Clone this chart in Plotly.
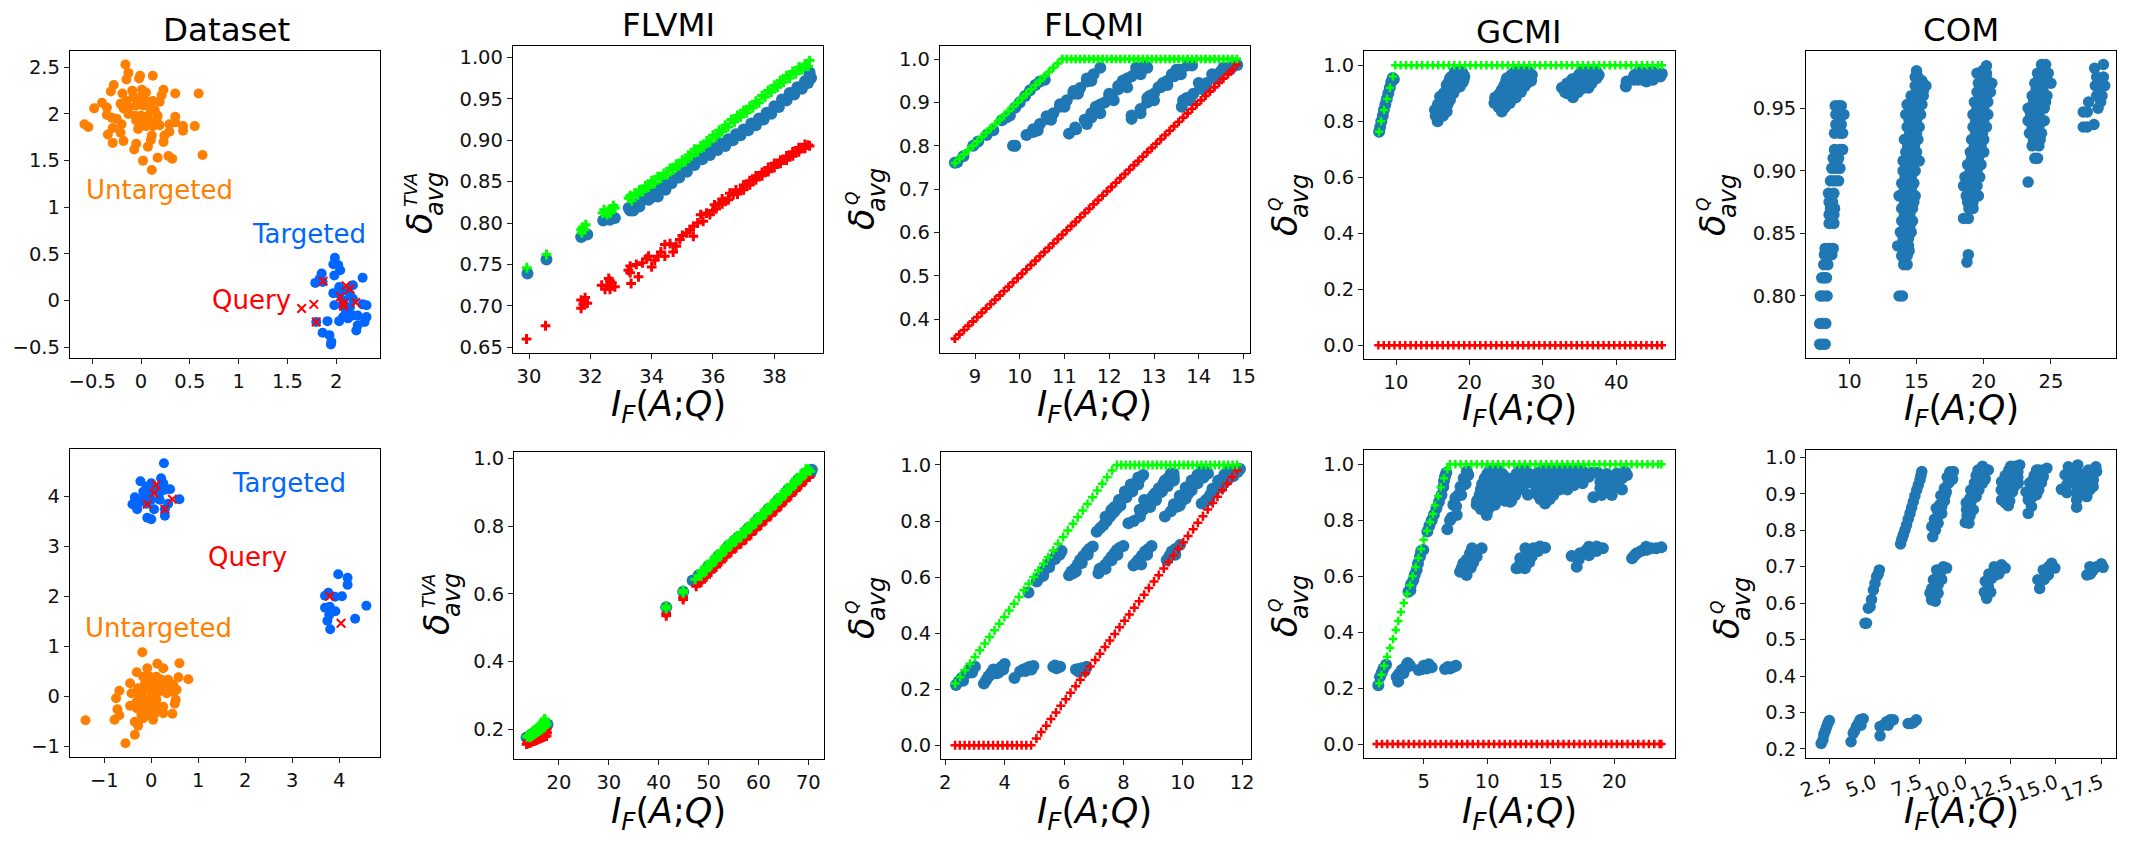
import plotly.graph_objects as go
from plotly.subplots import make_subplots

W, H = 2135, 841
BLUE = '#1f77b4'
RED = '#ff0000'
GREEN = '#00ff00'
ORANGE = '#ff8000'
DS_BLUE = '#0066ff'
FONT = 'DejaVu Sans'

# ---- Dataset panels
ds_top_orange = [(-.16,2.53),(-.13,2.44),(-.15,2.37),(-.01,2.41),(-.02,2.38),(.12,2.41),(-.28,2.31),(-.31,2.24),(-.19,2.22),(-.09,2.25),(.01,2.26),(.05,2.23),(.23,2.26),(.21,2.2),(.35,2.22),(.59,2.22),(-.40,2.12),(-.35,2.07),(-.48,2.06),(-.35,1.99),(-.58,1.89),(-.54,1.86),
                 (-.21,2.11),(-.15,2.14),(-.08,2.18),(-.01,2.18),(.05,2.14),(.12,2.14),(.19,2.13),(-.18,2.06),(-.12,2.07),(-.05,2.09),(.02,2.09),(.09,2.07),(.14,2.04),(-.13,2.0),(-.06,1.98),(.0,1.98),(.07,1.98),(.17,1.98),(-.05,1.93),(.02,1.92),(.09,1.92),(.16,1.92),(.05,1.87),(.12,1.87),(.19,1.88),(.29,1.89),(.35,1.97),(.35,1.91),
                 (-.3,1.96),(-.25,1.95),(-.2,1.89),(-.29,1.85),(-.21,1.8),(-.34,1.78),(-.29,1.69),(-.18,1.71),(-.05,1.68),(-.07,1.62),(-.03,1.84),(.07,1.65),(.1,1.72),(.11,1.77),(.23,1.7),(.24,1.77),(.29,1.81),(.43,1.87),(.43,1.82),(.55,1.87),(.63,1.56),(.17,1.53),(.28,1.55),(.32,1.52),(.02,1.5),(.11,1.4)]
ds_top_blue = [(1.986,.46),(1.97,.39),(2.02,.38),(2.04,.325),(1.98,.27),(1.85,.29),(1.83,.235),(1.785,.19),(1.86,.2),(2.27,.245),(2.17,.165),(2.03,.145),(2.10,.11),(1.97,.08),(2.03,.075),(2.14,.06),(2.07,0),(2.17,.02),(1.98,-.05),(2.07,-.06),(2.14,-.07),(2.27,-.04),(2.31,-.05),(2.10,-.12),(2.17,-.16),(2.07,-.175),(2.03,-.22),(2.12,-.19),(2.22,-.16),(2.31,-.175),(2.29,-.23),(1.91,-.22),(1.795,-.23),(2.22,-.265),(2.205,-.32),(1.86,-.345),(1.93,-.37),(1.95,-.44),(1.945,-.47)]
ds_top_query = [(1.865,.207),(2.10,.16),(2.14,.125),(2.04,.04),(2.2,-.02),(2.07,-.03),(2.075,-.06),(1.77,-.04),(1.645,-.085),(1.795,-.23)]
ds_bot_orange = [(-.19,.88),(.13,.65),(.255,.56),(.6,.66),(-.085,.56),(-.31,.48),(-.45,.26),(.58,.38),(.79,.34),(.36,.33),(-.68,.11),(-.75,-.04),(-.72,-.26),(-.68,-.38),(-.78,-.47),(-1.4,-.48),(-.35,-.51),(-.28,-.59),(-.35,-.77),(-.55,-.94),(.04,-.47),(.45,-.35),(.255,-.34),(.5,-.15),(.52,-.07),(.54,.13),(.47,.23),
                 (-.17,.39),(-.03,.39),(.11,.39),(.22,.33),(-.28,.16),(-.13,.26),(0,.26),(.15,.23),(.29,.19),(.43,.19),(-.42,.06),(-.28,.03),(-.13,.13),(0,.09),(.15,.09),(.33,.06),(.47,.09),(-.45,-.19),(-.31,-.11),(-.17,-.04),(-.03,-.07),(.11,-.07),(-.31,-.24),(-.17,-.21),(-.03,-.24),(.11,-.21),(.255,-.21),(-.21,-.37),(-.06,-.37),(.08,-.34),(-.17,-.44)]
ds_bot_blue = [(.27,4.66),(-.23,4.3),(.21,4.36),(.255,4.26),(0,4.26),(-.1,4.19),(.11,4.16),(.4,4.14),(-.17,4.09),(-.03,4.06),(.17,4.06),(.29,4.13),(-.35,3.98),(-.17,3.96),(0,3.93),(.18,3.93),(.6,3.94),(-.4,3.84),(-.28,3.86),(-.1,3.85),(-.3,3.74),(.06,3.74),(.36,3.85),(.29,3.74),(.29,3.61),(-.085,3.57),(0,3.54),
               (3.98,2.44),(4.18,2.37),(4.18,2.23),(3.77,2.07),(3.7,2.01),(3.91,1.99),(4.06,2.0),(4.58,1.81),(3.7,1.77),(3.8,1.79),(3.92,1.7),(3.79,1.63),(3.75,1.51),(4.34,1.55),(3.81,1.34)]
ds_bot_query = [(.1,4.23),(.06,4.06),(-.085,3.84),(.45,3.94),(.29,3.74),(3.8,2.0),(4.04,1.46)]

# ---- FLVMI
flvmi_top_blue = [(29.95,.739),(30.57,.756),(31.7,.783),(31.83,.786),(31.9,.786),(32.42,.803),(32.64,.804),(32.8,.806),
                  (33.25,.818),(33.3,.815),(33.5,.823),(33.75,.829),(34.0,.835),(34.05,.832),(34.25,.842),(34.45,.844),(34.5,.848),(34.75,.854),(35.0,.862),(35.25,.870),(35.5,.878),(35.75,.884),(36.0,.890),(36.25,.896),(36.5,.901),(36.75,.907),(37.0,.913),(37.25,.920),(37.5,.926),(37.75,.933),(38.0,.941),(38.25,.949),(38.5,.957),(38.75,.964),(39.0,.971),(39.15,.978),
                  (33.4,.815),(33.6,.82),(33.9,.828),(34.2,.832),(34.45,.84),(34.65,.848),(34.9,.855),(35.15,.862),(35.4,.87),(35.65,.877),(35.9,.882),(36.15,.888),(36.4,.893),(36.65,.9),(36.9,.906),(37.15,.912),(37.4,.918),(37.65,.925),(37.9,.932),(38.15,.94),(38.4,.948),(38.65,.955),(38.9,.962),(39.1,.969),(39.2,.975),(39.15,.982)]
flvmi_top_green = [(29.93,.746),(30.57,.762),(31.7,.792),(31.75,.795),(31.85,.798),(31.72,.788),(32.4,.812),(32.5,.813),(32.6,.815),(32.7,.817),(32.8,.818),(32.55,.81),(33.25,.83),(33.3,.833),(33.45,.836),(33.6,.84),(33.8,.845),(34,.851),(34.2,.856),(34.4,.86),(34.6,.866),(34.8,.871),(35,.876),(35.2,.882),(35.4,.889),(35.6,.893),(35.8,.899),(36,.906),(36.2,.912),(36.4,.918),(36.6,.925),(36.8,.93),(37,.936),(37.2,.941),(37.4,.947),(37.6,.954),(37.8,.96),(38,.966),(38.2,.972),(38.4,.978),(38.6,.983),(38.8,.988),(39,.992),(39.15,.996),
                   (33.35,.827),(33.55,.834),(33.7,.838),(33.9,.843),(34.1,.848),(34.3,.854),(34.5,.858),(34.7,.864),(34.9,.869),(35.1,.874),(35.3,.881),(35.5,.886),(35.7,.892),(35.9,.898),(36.1,.904),(36.3,.91),(36.5,.916),(36.7,.922),(36.9,.928),(37.1,.933),(37.3,.939),(37.5,.945),(37.7,.952),(37.9,.958),(38.1,.964),(38.3,.97),(38.5,.975),(38.7,.98),(38.9,.985),(39.1,.989),(31.8,.792),(32.65,.812),(32.45,.816),(32.75,.821)]
flvmi_top_red = [(29.92,.660),(30.54,.676),(31.7,.707),(31.83,.71),(31.77,.702),(31.7,.697),(31.9,.703),(32.37,.725),(32.64,.73),(32.48,.72),(32.8,.723),(32.64,.72),(33.24,.743),(33.33,.727),(33.57,.735),(33.5,.75),(33.84,.757),(34.0,.747),(34.43,.76),(34.43,.774),(34.7,.765),(34.92,.78),(35.14,.788),(35.36,.784),(35.36,.796),(35.79,.812),(35.68,.802),(36.0,.815),(36.2,.824),(36.4,.826),(36.66,.834),(36.9,.84),(37.1,.846),(37.3,.852),(37.5,.857),(37.7,.862),(37.9,.867),(38.1,.871),(38.3,.876),(38.5,.88),(38.7,.885),(38.9,.89),(39.1,.894),
                 (36.1,.817),(36.3,.823),(36.5,.828),(36.8,.835),(37,.84),(37.2,.846),(37.4,.852),(37.6,.857),(37.8,.862),(38,.867),(38.2,.872),(38.4,.876),(38.6,.881),(38.8,.886),(39,.89),(39.15,.893),(36.05,.822),(36.3,.829),(36.55,.836),(36.75,.84),(37,.846),(37.2,.851),(37.4,.857),(37.6,.861),(37.8,.867),(38,.872),(38.2,.876),(38.4,.881),(38.6,.886),(38.8,.891),(39,.895),
                 (33.7,.752),(33.9,.76),(34.1,.755),(34.3,.765),(34.6,.775),(34.8,.772),(35,.785),(35.25,.792),(35.5,.8),(35.6,.81),(35.9,.81),(34.2,.76),(33.3,.74),(33.3,.748),(32.55,.725),(32.7,.728),(32.6,.733),(31.8,.705)]
flvmi_bot_blue = [(13.5,.176),(14.5,.185),(15.5,.195),(16.5,.205),(17.3,.215),(17.7,.214),(41.5,.56),(44.9,.606),(46.8,.639),(48,.655),(50,.683),(52,.712),(54,.742),(55,.752),(56,.768),(58,.794),(60,.822),(62,.85),(64,.878),(66,.908),(68,.938),(70.7,.966),(70.4,.955)]
flvmi_bot_red = [(13.5,.156),(14,.16),(14.5,.163),(15,.165),(15.5,.168),(16,.172),(16.5,.175),(17,.178),(17.5,.18),(17.3,.195),(41.5,.542),(44.9,.589),(47.5,.622),(48,.632),(49,.647),(50,.663),(51,.677),(52,.692),(53,.707),(54,.722),(55,.735),(56,.748),(57,.76),(58,.774),(59,.788),(60,.802),(61,.816),(62,.83),(63,.844),(64,.858),(65,.873),(66,.888),(67,.903),(68,.918),(69,.933),(70,.948),
                 (48.5,.634),(49.5,.649),(50.5,.664),(51.5,.679),(52.5,.694),(53.5,.709),(54.5,.723),(55.5,.736),(56.5,.748),(57.5,.761),(58.5,.775),(59.5,.789),(60.5,.803),(61.5,.817),(62.5,.831),(63.5,.845),(64.5,.86),(65.5,.875),(66.5,.89),(67.5,.905),(68.5,.92),(69.5,.935),(70.2,.945),
                 (13.7,.158),(14.2,.16),(14.7,.165),(15.2,.167),(15.7,.17),(16.2,.173),(16.7,.176),(17.2,.18),(17.6,.19),(17.5,.2),(13.8,.165),(14.5,.17),(15.5,.175),(16.5,.185),(17,.19),(41.5,.535),(44.9,.583)]
flvmi_bot_green = [(13.6,.178),(14,.182),(14.5,.19),(15,.197),(15.5,.2),(16,.21),(16.5,.215),(17,.225),(17,.205),(16.5,.2),(16,.195),(15.5,.19),(15,.185),(14.5,.18),(17.2,.23),(17.5,.215),(41.5,.563),(44.9,.61),(47.3,.643),(48,.653),(49,.667),(50,.683),(51,.697),(52,.712),(53,.727),(54,.742),(55,.755),(56,.768),(57,.78),(58,.794),(59,.808),(60,.822),(61,.836),(62,.85),(63,.864),(64,.878),(65,.893),(66,.908),(67,.923),(68,.938),(69,.953),(70,.968),
                   (48.5,.667),(49.5,.682),(50.5,.697),(51.5,.712),(52.5,.727),(53.5,.742),(54.5,.756),(55.5,.769),(56.5,.781),(57.5,.794),(58.5,.808),(59.5,.822),(60.5,.836),(61.5,.85),(62.5,.864),(63.5,.878),(64.5,.893),(65.5,.908),(66.5,.923),(67.5,.938),(68.5,.953),(69.5,.968),
                   (48.5,.653),(49.5,.668),(50.5,.683),(51.5,.698),(52.5,.713),(53.5,.728),(54.5,.742),(55.5,.755),(56.5,.767),(57.5,.78),(58.5,.794),(59.5,.808),(60.5,.822),(61.5,.836),(62.5,.85),(63.5,.864),(64.5,.879),(65.5,.894),(66.5,.909),(67.5,.924),(68.5,.939),(69.5,.954),(70.4,.962),
                   (13.8,.18),(14.2,.186),(14.7,.193),(15.2,.198),(15.7,.205),(16.2,.212),(16.7,.22),(17.1,.23),(16.7,.205),(16.2,.198),(15.7,.193),(15.2,.188),(14.7,.183),(14.2,.176),(17.3,.222),(17.2,.21),(41.5,.556),(44.9,.603)]

# ---- FLQMI
flqmi_top_blue = [(8.55,.761),(8.6,.762),(8.74,.776),(8.96,.80),(9.07,.81),(9.26,.825),(9.41,.836),(9.6,.859),(9.7,.865),(9.78,.87),(9.9,.888),(10.0,.9),(10.12,.915),(10.23,.928),(10.35,.94),(10.45,.948),(10.56,.952),(9.85,.80),(9.9,.80),
                  (10.15,.825),(10.3,.838),(10.45,.85),(10.6,.862),(10.75,.875),(10.9,.89),(11.05,.905),(11.2,.92),(11.35,.933),(11.5,.948),(11.65,.965),(11.8,.98),(10.3,.832),(10.6,.868),(10.9,.896),(11.2,.926),(11.5,.955),
                  (10.4,.835),(10.7,.86),(11,.89),(11.3,.92),(11.6,.95),
                  (11.1,.828),(11.24,.842),(11.26,.838),
                  (11.45,.86),(11.6,.865),(11.75,.88),(11.9,.90),(12.05,.915),(12.2,.93),(12.35,.945),(12.5,.96),(12.65,.975),(12.8,.985),(12.85,.98),(11.6,.875),(11.8,.895),(12.0,.915),(12.2,.938),(12.4,.955),(12.6,.97),
                  (11.5,.85),(11.8,.875),(12.1,.905),(12.4,.935),(12.7,.965),(11.7,.89),(12,.92),(12.3,.95),(12.6,.98),
                  (12.5,.87),(12.5,.862),(12.7,.885),(12.85,.90),(13,.92),(13.15,.935),(13.3,.95),(13.45,.96),(13.6,.975),(13.75,.985),(13.85,.985),(12.85,.91),(13.1,.935),(13.4,.965),
                  (12.7,.875),(13,.905),(13.3,.94),(13.6,.965),(12.9,.915),(13.2,.945),(13.5,.975),
                  (13.62,.89),(13.73,.91),(13.88,.92),(14.03,.932),(14.18,.945),(14.33,.96),(14.48,.97),(14.63,.978),(14.75,.982),(14.86,.986),
                  (13.8,.905),(14.1,.93),(14.4,.955),(14.7,.975),(14.0,.945),(14.3,.965),(14.55,.98),(13.65,.905)]
flqmi_top_green_x = [8.55,8.65,8.75,8.85,8.95,9.05,9.15,9.25,9.35,9.45,9.55,9.65,9.75,9.85,9.95,10.05,10.15,10.25,10.35,10.45,10.55,10.65,10.75,10.85,10.95,11.05,11.15,11.25,11.35,11.45,11.55,11.65,11.75,11.85,11.95,12.05,12.15,12.25,12.35,12.45,12.55,12.65,12.75,12.85,12.95,13.05,13.15,13.25,13.35,13.45,13.55,13.65,13.75,13.85,13.95,14.05,14.15,14.25,14.35,14.45,14.55,14.65,14.75,14.85]
flqmi_top_green_y = [.76,.77,.78,.79,.80,.81,.82,.83,.84,.85,.86,.87,.88,.89,.90,.91,.92,.93,.94,.95,.96,.97,.98,.99,1,1,1,1,1,1,1,1,1,1,1,1,1,1,1,1,1,1,1,1,1,1,1,1,1,1,1,1,1,1,1,1,1,1,1,1,1,1,1,1]
flqmi_top_red_x = flqmi_top_green_x
flqmi_top_red_y = [.355,.365,.375,.385,.395,.405,.415,.425,.435,.445,.455,.465,.475,.485,.495,.505,.515,.525,.535,.545,.555,.565,.575,.585,.595,.605,.615,.625,.635,.645,.655,.665,.675,.685,.695,.705,.715,.725,.735,.745,.755,.765,.775,.785,.795,.805,.815,.825,.835,.845,.855,.865,.875,.885,.895,.905,.915,.925,.935,.945,.955,.965,.975,.988]
flqmi_bot_blue = [(2.36,.215),(2.45,.228),(2.55,.24),(2.7,.255),(2.83,.27),(3.0,.28),(3.3,.22),(3.38,.233),(3.45,.245),(3.55,.258),(3.62,.27),(3.73,.257),(3.84,.275),(3.92,.282),(4.0,.29),(4.33,.24),(4.52,.263),(4.63,.27),(4.74,.275),(4.85,.28),(4.97,.283),(5.64,.28),(5.75,.275),(5.87,.28),(6.4,.27),(6.5,.272),(6.6,.275),(6.76,.28),
                  (4.8,.545),(5.08,.584),(5.2,.6),(5.3,.62),(5.42,.635),(5.53,.65),(5.65,.665),(5.75,.68),(5.92,.693),
                  (6.17,.607),(6.25,.62),(6.3,.614),(6.37,.631),(6.46,.645),(6.54,.661),(6.65,.675),(6.76,.69),(6.85,.7),(6.97,.709),
                  (7.16,.614),(7.2,.63),(7.28,.628),(7.38,.643),(7.5,.658),(7.6,.673),(7.7,.685),(7.78,.697),(7.88,.705),(8.0,.711),
                  (8.34,.641),(8.42,.65),(8.5,.661),(8.62,.676),(8.73,.691),(8.84,.70),(8.95,.711),
                  (9.46,.661),(9.55,.675),(9.63,.691),(9.75,.70),(9.91,.715),(9.75,.68),
                  (7.1,.762),(7.22,.775),(7.33,.786),(7.44,.8),(7.55,.816),(7.66,.83),(7.78,.845),(7.89,.863),(8.0,.881),(8.11,.895),(8.22,.911),(8.33,.923),(8.45,.935),(8.55,.95),(8.67,.964),(7.5,.82),(7.7,.85),(7.9,.875),(8.1,.905),(8.3,.93),
                  (8.17,.792),(8.35,.80),(8.56,.816),(8.55,.84),(8.67,.84),(8.79,.863),(8.93,.88),(9.07,.899),(9.2,.917),(9.35,.935),(9.5,.953),(9.69,.97),(8.9,.865),(9.2,.90),(9.5,.935),(9.7,.955),
                  (9.4,.816),(9.6,.835),(9.8,.851),(9.7,.86),(9.9,.87),(10.02,.893),(10.2,.915),(10.36,.935),(10.55,.955),(10.75,.976),(10.0,.875),(10.2,.90),(10.5,.94),(10.7,.965),
                  (10.64,.863),(10.78,.875),(10.92,.893),(11.1,.915),(11.26,.935),(11.42,.953),(11.6,.97),(11.75,.98),(11.93,.986),(11.2,.945),(11.5,.975),
                  (7.7,.835),(7.9,.855),(8.1,.885),(8.3,.905),(8.5,.93),(7.4,.815),(7.6,.84),(7.85,.875),(8.05,.905),(8.25,.93),(8.5,.955),
                  (8.9,.85),(9.1,.875),(9.3,.905),(9.5,.925),(9.7,.945),(9.0,.89),(9.2,.915),(9.4,.945),(9.6,.97),(8.7,.875),
                  (9.9,.855),(10.1,.88),(10.3,.91),(10.5,.935),(10.7,.955),(9.9,.89),(10.1,.92),(10.3,.945),(10.5,.965),(10.65,.98),(10.85,.97),
                  (10.9,.875),(11.05,.9),(11.3,.92),(11.5,.945),(11.0,.915),(11.2,.94),(11.4,.965),(11.7,.96),(11.85,.975),
                  (6.4,.62),(6.6,.65),(6.8,.68),(7.4,.63),(7.6,.66),(7.8,.68),(8.6,.645),(8.8,.68),(5.3,.605),(5.5,.635),(5.7,.665),(5.85,.68),
                  (2.9,.26),(2.6,.23),(3.5,.25),(3.7,.265),(3.8,.26),(3.95,.27),(4.7,.265),(4.9,.27),(5.7,.285),(6.5,.262),(6.7,.265)]
flqmi_bot_green_x = [2.33,2.5,2.66,2.83,3,3.16,3.33,3.49,3.66,3.82,3.99,4.15,4.32,4.48,4.65,4.81,4.98,5.14,5.31,5.47,5.64,5.8,5.97,6.13,6.3,6.46,6.63,6.79,6.96,7.12,7.29,7.45,7.62,7.78,7.93,8.08,8.23,8.38,8.53,8.68,8.83,8.98,9.13,9.28,9.43,9.58,9.73,9.88,10.03,10.18,10.33,10.48,10.63,10.78,10.93,11.08,11.23,11.38,11.53,11.68,11.83]
flqmi_bot_green_y = [.22,.244,.268,.291,.315,.339,.363,.386,.41,.434,.458,.481,.505,.529,.553,.576,.6,.624,.648,.671,.695,.719,.743,.766,.79,.814,.838,.861,.885,.909,.933,.956,.98,1,1,1,1,1,1,1,1,1,1,1,1,1,1,1,1,1,1,1,1,1,1,1,1,1,1,1,1]
flqmi_bot_red_x = [2.33,2.49,2.65,2.81,2.97,3.13,3.29,3.45,3.61,3.77,3.93,4.09,4.25,4.41,4.57,4.73,4.89,5.07,5.23,5.4,5.56,5.73,5.89,6.06,6.22,6.39,6.55,6.72,6.88,7.05,7.21,7.38,7.54,7.71,7.87,8.04,8.2,8.37,8.53,8.7,8.86,9.03,9.19,9.36,9.52,9.69,9.85,10.02,10.18,10.35,10.51,10.68,10.84,11.01,11.17,11.34,11.5,11.67,11.83]
flqmi_bot_red_y = [0,0,0,0,0,0,0,0,0,0,0,0,0,0,0,0,0,.024,.047,.07,.094,.117,.141,.164,.187,.211,.234,.257,.281,.304,.327,.351,.374,.397,.421,.444,.467,.491,.514,.537,.561,.584,.607,.631,.654,.677,.701,.724,.747,.771,.794,.817,.841,.864,.887,.911,.934,.957,.981]

# ---- GCMI
gcmi_top_blue = [(7.7,.763),(7.85,.78),(8,.80),(8.2,.82),(8.35,.84),(8.55,.86),(8.75,.88),(8.95,.90),(9.15,.92),(9.35,.94),(9.55,.955),(9.7,.95),
                 (15.67,.80),(15.3,.84),(16.2,.864),(16.9,.835),(17.35,.876),(16.0,.888),(16.9,.93),(17.8,.912),(18.26,.948),(19.17,.965),(17.35,.954),(18.26,.97),(19.2,.948),(18.7,.924),(16.4,.85),(16.5,.88),(16.8,.89),(17.3,.91),(17.6,.94),(18.6,.96),(18.7,.978),(15.9,.86),(17,.9),
                 (15.4,.82),(16,.82),(16.4,.82),(15.6,.84),(16.2,.84),(15.7,.86),(17,.86),(16.4,.88),(17,.88),(16.5,.90),(17.8,.90),(17,.92),(17.6,.92),(18.2,.92),(17.2,.94),(17.9,.94),(18.6,.94),(19.1,.94),(17.6,.96),(18.2,.96),(18.8,.96),(19.3,.96),(18,.975),(18.6,.975),(19,.975),
                 (24.4,.835),(23.7,.876),(25.1,.87),(26,.888),(24.4,.912),(25.5,.924),(26.9,.918),(25.1,.954),(26.4,.96),(27.8,.936),(26.2,.977),(27.6,.977),(28.5,.965),(24.2,.86),(24.8,.885),(25.3,.9),(24.8,.93),(26.2,.93),(27,.945),(25.7,.945),(28,.955),(26.9,.975),(24,.895),
                 (24,.85),(24.8,.85),(23.4,.865),(24.1,.865),(24.8,.865),(25.5,.865),(23.5,.885),(24.2,.885),(25.6,.885),(26.3,.885),(24.3,.905),(25,.905),(25.7,.905),(26.4,.905),(27,.905),(24.7,.925),(25.4,.925),(26.1,.925),(26.8,.925),(27.5,.925),(25,.945),(26.4,.945),(27.1,.945),(27.8,.945),(28.4,.945),(25.7,.965),(27.1,.965),(27.8,.965),(26.5,.978),(27,.978),(28,.978),
                 (32.6,.92),(33.3,.9),(34.1,.886),(33.7,.936),(34.8,.936),(36,.936),(35,.965),(36.2,.977),(37.3,.977),(37.3,.954),(34,.92),(35,.92),(36.3,.955),(34.5,.95),(35.6,.95),(35.6,.977),(33.2,.92),(36.8,.965),
                 (33,.905),(33.6,.905),(34.2,.905),(34.8,.905),(33.8,.92),(34.4,.92),(35.6,.92),(36.2,.92),(33.3,.935),(34.2,.935),(35.4,.935),(36.6,.935),(34,.95),(34.9,.95),(36,.95),(37,.95),(34.9,.965),(35.5,.965),(36,.965),(37,.965),(37.6,.965),(35.2,.975),(35.9,.975),(36.6,.975),(37,.975),
                 (41.3,.924),(41.4,.942),(42.5,.965),(43,.948),(44.1,.942),(43.7,.97),(45,.97),(46.2,.97),(43.5,.955),(42.9,.97),(44.6,.955),(45.6,.97),
                 (42.4,.948),(43.6,.948),(44.5,.948),(45,.948),(42.4,.96),(43.2,.96),(44,.96),(44.8,.96),(45.4,.96),(46,.96),(43,.975),(43.4,.975),(44.4,.975),(45,.975)]
gcmi_top_green_x = [7.68,7.96,8.37,8.77,9.18,9.59,9.9,10.63,11.36,12.09,12.82,13.55,14.28,15.01,15.74,16.47,17.2,17.93,18.66,19.39,20.12,20.85,21.58,22.31,23.04,23.77,24.5,25.23,25.96,26.69,27.42,28.15,28.88,29.61,30.34,31.07,31.8,32.53,33.26,33.99,34.72,35.45,36.18,36.91,37.64,38.37,39.1,39.83,40.56,41.29,42.02,42.75,43.48,44.21,44.94,45.67,46.2]
gcmi_top_green_y = [.763,.80,.84,.88,.92,.96,1,1,1,1,1,1,1,1,1,1,1,1,1,1,1,1,1,1,1,1,1,1,1,1,1,1,1,1,1,1,1,1,1,1,1,1,1,1,1,1,1,1,1,1,1,1,1,1,1,1,1]
gcmi_top_red_x = [7.6,8.33,9.06,9.79,10.52,11.25,11.98,12.71,13.44,14.17,14.9,15.63,16.36,17.09,17.82,18.55,19.28,20.01,20.74,21.47,22.2,22.93,23.66,24.39,25.12,25.85,26.58,27.31,28.04,28.77,29.5,30.23,30.96,31.69,32.42,33.15,33.88,34.61,35.34,36.07,36.8,37.53,38.26,38.99,39.72,40.45,41.18,41.91,42.64,43.37,44.1,44.83,45.56,46.2]
gcmi_top_red_y = [0] * len(gcmi_top_red_x)
gcmi_bot_blue = [(1.43,.21),(1.56,.24),(1.7,.255),(1.83,.27),(2.04,.283),(3.0,.223),(2.87,.24),(3.05,.25),(3.27,.265),(3.66,.283),(3.92,.28),(3.4,.253),(3.55,.27),(3.75,.29),
                 (4.6,.265),(4.84,.267),(5.04,.272),(5.24,.27),(5.63,.274),(5.4,.285),(5.0,.28),(6.68,.268),(7.07,.27),(7.54,.28),(6.9,.275),(7.3,.275),
                 (3.8,.544),(3.95,.55),(4.0,.57),(4.19,.586),(4.3,.605),(4.45,.622),(4.55,.645),(4.71,.67),(4.97,.694),(4.8,.69),
                 (5.29,.76),(5.45,.78),(5.63,.80),(5.8,.82),(6.0,.843),(6.2,.865),(6.4,.89),(6.55,.92),(6.68,.956),(6.78,.97),(6.6,.94),
                 (6.86,.768),(7.07,.8),(7.2,.81),(7.6,.819),(7.33,.855),(7.55,.85),(7.73,.89),(7.5,.88),(7.95,.89),(8.12,.926),(7.9,.92),(8.3,.93),(8.51,.962),(8.15,.95),(8.4,.975),
                 (9.96,.819),(9.5,.84),(10.1,.84),(9.17,.855),(9.7,.855),(10.2,.855),(10.6,.855),(11.8,.866),(9.2,.87),(9.7,.87),(10.3,.87),(10.8,.87),(11.4,.87),(11.9,.87),(9.4,.89),(10,.89),(10.6,.89),(11.2,.89),(11.8,.89),(12.2,.89),(9.5,.91),(10.1,.91),(10.7,.91),(11.3,.91),(11.9,.91),(12.5,.91),(9.6,.93),(10.2,.93),(10.8,.93),(11.4,.93),(12,.93),(12.6,.93),(13.0,.93),(9.8,.95),(10.4,.95),(11,.95),(11.6,.95),(12.2,.95),(12.8,.95),(13.2,.95),(10,.965),(10.6,.965),(11.2,.965),(12.3,.965),(12.9,.965),(13.3,.965),(10.2,.978),(10.8,.978),(12.6,.978),(13,.978),(13.2,.891),
                 (14.55,.86),(14.2,.875),(14.9,.875),(14,.89),(14.6,.89),(15.2,.89),(13.9,.91),(14.5,.91),(15.1,.91),(15.7,.91),(16.3,.91),(13.8,.925),(14.4,.925),(15,.925),(15.6,.925),(16.2,.925),(16.8,.925),(13.7,.94),(14.3,.94),(14.9,.94),(15.5,.94),(16.1,.94),(16.7,.94),(17.3,.94),(13.8,.955),(14.4,.955),(15,.955),(15.6,.955),(16.2,.955),(16.8,.955),(17.4,.955),(18,.955),(14,.97),(14.6,.97),(15.2,.97),(15.8,.97),(16.4,.97),(17,.97),(17.6,.97),(18.2,.97),(18.7,.97),(14.4,.98),(15,.98),(15.6,.98),(16.2,.98),(16.8,.98),(17.4,.98),(17.5,.932),
                 (18.35,.882),(19,.89),(19.8,.89),(20.6,.91),(18.9,.914),(19.4,.914),(20,.918),(18.9,.938),(19.5,.944),(20.3,.944),(21,.962),(19.4,.965),(20.2,.967),(20.85,.973),(19.2,.95),(19.9,.93),(20.6,.95),
                 (8.38,.604),(7.86,.616),(8.12,.646),(8.65,.682),(9.17,.67),(9.56,.70),(8.35,.63),(8.7,.63),(8.4,.66),(8.9,.65),(9.1,.69),(8.8,.70),(8.6,.655),(8.0,.63),
                 (12.3,.628),(12.97,.628),(12.6,.664),(13.1,.68),(13.63,.7),(14.15,.706),(14.55,.702),(12.6,.645),(13.1,.655),(13.5,.67),(13,.70),(13.6,.685),(14,.69),(12.5,.63),(13.3,.65),
                 (17.04,.634),(16.64,.672),(17.3,.682),(17.8,.694),(18.6,.706),(19.1,.70),(17.2,.66),(18,.675),(18.6,.69),(17.2,.675),(18,.705),
                 (21.4,.664),(21.76,.682),(22.55,.694),(23.3,.70),(23.7,.703),(22.1,.69),(22.9,.70),(22.5,.705),(21.6,.675)]
gcmi_bot_green_x = [1.49,1.67,1.9,2.12,2.35,2.59,2.8,3.0,3.2,3.43,3.69,3.92,4.13,4.37,4.58,4.79,5.0,5.26,5.5,5.73,5.89,6.13,6.34,6.6,6.86,7.07,7.49,7.91,8.33,8.75,9.17,9.59,10.01,10.43,10.85,11.27,11.69,12.11,12.53,12.95,13.37,13.79,14.21,14.63,15.05,15.47,15.89,16.31,16.73,17.15,17.57,17.99,18.41,18.83,19.25,19.67,20.09,20.51,20.93,21.35,21.77,22.19,22.61,23.03,23.45,23.7]
gcmi_bot_green_y = [.217,.248,.28,.312,.343,.375,.408,.44,.472,.504,.536,.568,.6,.633,.665,.697,.73,.762,.794,.822,.853,.886,.918,.95,.982,1,1,1,1,1,1,1,1,1,1,1,1,1,1,1,1,1,1,1,1,1,1,1,1,1,1,1,1,1,1,1,1,1,1,1,1,1,1,1,1,1]
gcmi_bot_red_x = [1.3,1.72,2.14,2.56,2.98,3.4,3.82,4.24,4.66,5.08,5.5,5.92,6.34,6.76,7.18,7.6,8.02,8.44,8.86,9.28,9.7,10.12,10.54,10.96,11.38,11.8,12.22,12.64,13.06,13.48,13.9,14.32,14.74,15.16,15.58,16,16.42,16.84,17.26,17.68,18.1,18.52,18.94,19.36,19.78,20.2,20.62,21.04,21.46,21.88,22.3,22.72,23.14,23.56,23.7]
gcmi_bot_red_y = [0] * len(gcmi_bot_red_x)

# ---- COM
com_top_blue = [(7.8,.7615),(8,.7615),(8.2,.7615),(7.8,.778),(8,.778),(8.25,.778),(7.85,.80),(8.05,.80),(8.35,.80),(7.95,.8145),(8.15,.8145),(8.3,.8145),(8.1,.825),(8.4,.825),(8.15,.833),(8.45,.833),(8.7,.833),(8.2,.838),(8.5,.838),(8.8,.838),(8.5,.858),(8.85,.858),(8.5,.865),(8.85,.865),(8.6,.87),(8.9,.87),(8.5,.875),(8.75,.875),(8.45,.882),(8.85,.882),(8.6,.892),(8.9,.892),(9.2,.892),(8.7,.902),(9.0,.902),(9.3,.902),(8.8,.91),(9.2,.91),(8.9,.917),(9.3,.917),(9.5,.917),(8.9,.93),(9.3,.93),(9.5,.93),(9.0,.937),(9.4,.937),(9,.945),(9.3,.945),(9.6,.945),(8.95,.952),(9.2,.952),(9.4,.952),
                (13.7,.80),(13.95,.80),(14.05,.825),(14.3,.825),(13.9,.832),(14.3,.832),(13.6,.84),(14,.84),(14.4,.84),(13.8,.851),(14.2,.851),(14.6,.851),(13.9,.86),(14.3,.86),(14.7,.86),(13.9,.87),(14.3,.87),(14.7,.87),(13.7,.88),(14.1,.88),(14.6,.88),(14.9,.88),(13.9,.89),(14.3,.89),(14.8,.89),(14,.90),(14.4,.90),(14.9,.90),(14,.908),(14.5,.908),(15.2,.908),(14.2,.915),(14.6,.915),(15,.915),(14.1,.925),(14.6,.925),(15.1,.925),(14.3,.935),(14.8,.935),(15.2,.935),(14.2,.945),(14.7,.945),(15.3,.945),(14.3,.953),(14.8,.953),(15.4,.953),(14.6,.96),(15,.96),(15.5,.96),(14.9,.968),(15.3,.968),(15.7,.968),(15,.975),(15.1,.975),(15,.98),
                (14.1,.828),(14.1,.836),(14.45,.836),(14,.846),(14.4,.846),(14.1,.856),(14.5,.856),(14.1,.865),(14.5,.865),(14.1,.875),(14.5,.875),(14.8,.875),(14.1,.885),(14.6,.885),(14.15,.895),(14.6,.895),(14.2,.904),(14.7,.904),(14.4,.912),(14.9,.912),(14.35,.92),(14.85,.92),(14.5,.93),(15,.93),(14.45,.94),(15,.94),(14.55,.95),(15.1,.95),(14.8,.957),(15.2,.957),(15.1,.964),(15.5,.964),(15.1,.972),(15.4,.972),(14.9,.975),
                (18.75,.827),(18.85,.833),(18.5,.862),(18.85,.862),(18.9,.87),(19.2,.87),(18.7,.88),(19.1,.88),(19.6,.88),(18.5,.888),(19,.888),(19.5,.888),(18.6,.895),(19.2,.895),(19.7,.895),(18.8,.905),(19.3,.905),(19.8,.905),(19,.915),(19.4,.915),(20,.915),(19.1,.925),(19.6,.925),(20,.925),(19.2,.935),(19.7,.935),(20.2,.935),(19.2,.945),(19.7,.945),(20.3,.945),(19.3,.955),(19.8,.955),(20.3,.955),(19.5,.963),(20,.963),(20.5,.963),(19.6,.97),(20.1,.97),(20.6,.97),(19.5,.978),(20,.978),(20.2,.978),(20.2,.984),
                (18.8,.875),(19.2,.875),(18.9,.884),(19.3,.884),(18.9,.892),(19.4,.892),(19,.9),(19.5,.9),(19.1,.91),(19.6,.91),(19.3,.92),(19.8,.92),(19.4,.93),(19.9,.93),(19.4,.94),(20,.94),(19.5,.95),(20,.95),(19.7,.958),(20.2,.958),(19.7,.966),(20.2,.966),(19.8,.974),(20.2,.974),(19.9,.98),(20,.98),
                (23.3,.891),(23.8,.91),(24.0,.91),(23.6,.92),(24.1,.92),(23.4,.93),(23.9,.93),(24.3,.93),(23.3,.94),(23.8,.94),(24.5,.94),(23.3,.95),(23.9,.95),(24.5,.95),(23.6,.96),(24.1,.96),(24.7,.96),(23.8,.97),(24.3,.97),(25,.97),(24,.978),(24.6,.978),(24.8,.978),(24.3,.985),(24.6,.985),
                (23.7,.925),(24.2,.925),(23.6,.935),(24.1,.935),(23.5,.945),(24.1,.945),(23.7,.955),(24.3,.955),(24.6,.955),(23.9,.965),(24.4,.965),(24.1,.975),(24.6,.975),
                (27.4,.935),(27.7,.935),(28.2,.937),(27.4,.947),(27.7,.947),(27.8,.955),(28.5,.95),(28.7,.955),(28.4,.96),(28.8,.96),(28.3,.968),(28.8,.968),(29,.968),(28.4,.975),(28.9,.975),(28.25,.982),(28.9,.985),(28.6,.962),(28.6,.972)]
com_bot_blue = [(2.05,.215),(2.15,.225),(2.2,.24),(2.28,.25),(2.35,.26),(2.42,.27),(2.5,.278),(3.7,.22),(3.82,.243),(3.9,.25),(4,.262),(4.1,.27),(4.2,.28),(4.37,.283),(4.25,.265),(5.3,.236),(5.3,.262),(5.5,.266),(5.66,.275),(5.85,.28),(6.03,.28),(5.75,.265),(6.85,.27),(7.0,.27),(7.13,.272),(7.3,.28),
                (4.47,.545),(4.55,.545),(4.65,.586),(4.75,.59),(4.83,.61),(4.93,.636),(5.02,.654),(5.11,.673),(5.26,.691),(5.2,.68),
                (8.14,.609),(8.35,.605),(8.05,.627),(8.33,.645),(8.24,.664),(8.5,.673),(8.42,.691),(8.79,.70),(8.97,.696),(8.5,.627),(8.7,.665),(8.5,.65),(8.15,.64),(8.7,.69),
                (11.18,.613),(11.05,.63),(11.4,.63),(11.27,.645),(11.1,.66),(11.45,.668),(11.6,.675),(11.73,.691),(12,.705),(12.2,.696),(11.85,.68),(11.3,.68),(11.6,.70),
                (14.1,.64),(14,.664),(14.3,.691),(14.76,.709),(14.94,.696),(14.58,.677),(14.35,.665),(14.6,.70),
                (16.7,.677),(16.87,.70),(17.24,.70),(17.5,.708),(17.6,.698),(17.05,.69),(16.9,.68),
                (6.43,.762),(6.5,.775),(6.58,.787),(6.67,.8),(6.76,.814),(6.85,.83),(6.95,.846),(7.04,.862),(7.13,.878),(7.22,.894),(7.32,.91),(7.41,.924),(7.5,.938),(7.55,.95),(7.6,.961),
                (8.2,.782),(8.15,.81),(8.35,.80),(8.5,.819),(8.45,.835),(8.7,.846),(8.4,.86),(8.6,.87),(8.9,.897),(8.65,.895),(8.85,.88),(9.06,.929),(8.85,.915),(9.0,.945),(9.34,.961),(9.3,.94),(9.15,.96),
                (8.3,.83),(8.5,.85),(8.7,.865),(8.75,.89),(8.95,.905),(9.1,.93),(9.2,.945),(9.1,.95),
                (10,.821),(10.2,.819),(10.07,.856),(10.44,.856),(10.26,.84),(10.26,.888),(10.6,.892),(10.05,.875),(10.5,.929),(10.95,.929),(10.3,.91),(10.75,.91),(10.7,.965),(11.27,.965),(10.6,.95),(11,.95),(10.95,.975),
                (10.1,.84),(10.2,.86),(10.3,.875),(10.5,.89),(10.4,.91),(10.6,.91),(10.8,.93),(10.7,.93),(10.85,.95),(10.8,.965),(11.1,.94),(11.1,.965),
                (12.37,.867),(12,.883),(12.2,.875),(12,.933),(12.46,.906),(12.92,.929),(12.46,.956),(13,.979),(12.3,.885),(11.98,.91),(12.25,.93),(12.7,.92),(12.7,.95),(12.2,.95),(12.75,.975),(12.9,.96),
                (12.15,.91),(12.3,.905),(12.5,.93),(12.45,.88),(12.6,.905),(12.9,.945),(12.5,.975),(12.3,.94),(12.1,.93),(12.4,.965),
                (13.47,.846),(13.47,.883),(13.35,.905),(13.65,.865),(13.93,.897),(13.75,.929),(14.1,.929),(13.93,.965),(14.5,.97),(14.3,.947),(13.6,.91),(13.8,.95),(14.05,.91),
                (13.6,.885),(13.8,.895),(13.55,.93),(14.15,.95),(14.3,.965),(14.2,.93),(13.7,.935),(14.05,.965),
                (15.3,.912),(15.6,.903),(15.5,.952),(15.68,.974),(16.14,.863),(16.14,.883),(16.2,.979),(15.95,.952),(15.6,.925),(16.15,.9),(16.1,.96),
                (15.7,.94),(15.8,.965),(16.15,.94),(16.15,.92),(16.2,.96),(16.05,.97),
                (16.7,.892),(16.87,.91),(16.6,.93),(17.06,.938),(16.78,.965),(17.2,.974),(17.24,.961),(16.5,.91),(16.95,.95),
                (16.75,.94),(17,.96),(17.05,.92),(16.8,.91),(16.6,.95)]

panels = [
    (1, 1, [70, 380, 50.7, 358], [-0.728, 2.448], [-0.615, 2.678], dict(dtick=0.5), dict(dtick=0.5, tick0=0)),
    (1, 2, [513, 823, 45.7, 353], [29.478, 39.588], [0.6431, 1.014], dict(dtick=2, tickformat='d'), dict(dtick=0.05, tickformat='.2f')),
    (1, 3, [940, 1250, 45.7, 353], [8.218, 15.145], [0.3223, 1.0307], dict(dtick=1), dict(dtick=0.1, tickformat='.1f')),
    (1, 4, [1364.3, 1674.7, 51.3, 359.3], [5.68, 47.95], [-0.05, 1.05], dict(dtick=10), dict(dtick=0.2, tickformat='.1f')),
    (1, 5, [1806.3, 2116.3, 50.7, 358.3], [6.8, 29.86], [0.7502, 0.996], dict(dtick=5), dict(dtick=0.05, tickformat='.2f')),
    (2, 1, [70, 380, 449.3, 757], [-1.73, 4.87], [-1.214, 4.94], dict(dtick=1), dict(dtick=1)),
    (2, 2, [514.3, 824.3, 451.7, 759.3], [11.04, 73.2], [0.1114, 1.0195], dict(dtick=10), dict(dtick=0.2, tickformat='.1f')),
    (2, 3, [941.3, 1251, 451.7, 759.3], [1.865, 12.3], [-0.05, 1.0474], dict(dtick=2), dict(dtick=0.2, tickformat='.1f')),
    (2, 4, [1364.3, 1674.7, 450.3, 758], [0.327, 24.75], [-0.05, 1.05], dict(dtick=5), dict(dtick=0.2, tickformat='.1f')),
    (2, 5, [1806.3, 2116.3, 450.3, 758], [1.231, 18.327], [0.1753, 1.019], dict(dtick=2.5, tick0=0, tickformat='.1f', tickangle=-20), dict(dtick=0.1, tickformat='.1f')),
]

fig = make_subplots(rows=2, cols=5)


def dots(pts, color, row, col, size=11):
    xs, ys = zip(*pts)
    fig.add_trace(go.Scatter(x=xs, y=ys, mode='markers', showlegend=False,
                             marker=dict(color=color, size=size, line=dict(width=0))), row=row, col=col)


def marks(xs, ys, color, row, col, symbol='cross-thin', size=6, lw=2.5):
    fig.add_trace(go.Scatter(x=xs, y=ys, mode='markers', showlegend=False,
                             marker=dict(symbol=symbol, size=size, color=color, line=dict(color=color, width=lw))),
                  row=row, col=col)


def pmarks(pts, color, row, col, **kw):
    xs, ys = zip(*pts)
    marks(xs, ys, color, row, col, **kw)


# dataset
dots(ds_top_orange, ORANGE, 1, 1, 10)
dots(ds_top_blue, DS_BLUE, 1, 1, 10)
pmarks(ds_top_query, RED, 1, 1, symbol='x-thin', size=8.5, lw=2)
dots(ds_bot_orange, ORANGE, 2, 1, 10)
dots(ds_bot_blue, DS_BLUE, 2, 1, 10)
pmarks(ds_bot_query, RED, 2, 1, symbol='x-thin', size=8.5, lw=2)

# FLVMI, the bands here are thick so the crosses are heavier
dots(flvmi_top_blue, BLUE, 1, 2, 12)
pmarks(flvmi_top_red, RED, 1, 2, size=7, lw=3)
pmarks(flvmi_top_green, GREEN, 1, 2, size=7, lw=3)
dots(flvmi_bot_blue, BLUE, 2, 2, 12)
pmarks(flvmi_bot_red, RED, 2, 2, size=7, lw=3)
pmarks(flvmi_bot_green, GREEN, 2, 2, size=7, lw=3)

# FLQMI
dots(flqmi_top_blue, BLUE, 1, 3, 12)
marks(flqmi_top_red_x, flqmi_top_red_y, RED, 1, 3, lw=2.9)
marks(flqmi_top_green_x, flqmi_top_green_y, GREEN, 1, 3, lw=2.9)
dots(flqmi_bot_blue, BLUE, 2, 3, 12)
marks(flqmi_bot_red_x, flqmi_bot_red_y, RED, 2, 3, size=6.5)
marks(flqmi_bot_green_x, flqmi_bot_green_y, GREEN, 2, 3, size=6.5)

# GCMI
dots(gcmi_top_blue, BLUE, 1, 4, 12)
marks(gcmi_top_red_x, gcmi_top_red_y, RED, 1, 4)
marks(gcmi_top_green_x, gcmi_top_green_y, GREEN, 1, 4)
dots(gcmi_bot_blue, BLUE, 2, 4, 12)
marks(gcmi_bot_red_x, gcmi_bot_red_y, RED, 2, 4)
marks(gcmi_bot_green_x, gcmi_bot_green_y, GREEN, 2, 4)

# COM
dots(com_top_blue, BLUE, 1, 5, 11.5)
dots(com_bot_blue, BLUE, 2, 5, 11.5)

for row, col, box, xr, yr, xopt, yopt in panels:
    left, right, top, bottom = box
    common = dict(showgrid=False, zeroline=False, showline=True, mirror=True, linecolor='black', linewidth=1.3,
                  ticks='outside', ticklen=5, tickwidth=1.2, tickcolor='#222222',
                  tickfont=dict(family=FONT, size=19.5, color='#111111'))
    fig.update_xaxes(domain=[left / W, right / W], range=xr, row=row, col=col, **common, **xopt)
    fig.update_yaxes(domain=[1 - bottom / H, 1 - top / H], range=yr, row=row, col=col, **common, **yopt)


def text(s, x, y, size, color='black', angle=0):
    fig.add_annotation(text=s, x=x / W, y=1 - y / H, xref='paper', yref='paper', showarrow=False, textangle=angle,
                       xanchor='center', yanchor='middle', font=dict(family=FONT, size=size, color=color))


for name, x, y in [('Dataset', 226, 30), ('FLVMI', 668, 25), ('FLQMI', 1094, 25), ('GCMI', 1519, 32), ('COM', 1961, 30)]:
    text(name, x, y, 32.5)

text('Untargeted', 159, 190, 26, ORANGE)
text('Targeted', 309, 234, 26, DS_BLUE)
text('Query', 251, 300, 26, RED)
text('Targeted', 289, 483, 26, DS_BLUE)
text('Query', 247, 557, 26, RED)
text('Untargeted', 158, 628, 26, ORANGE)

XLABEL = '<i>I<sub>F</sub></i>(<i>A</i>;<i>Q</i>)'
for x, y in [(668, 406), (1094, 406), (1519, 410), (1961, 410), (668, 813), (1094, 813), (1519, 813), (1961, 813)]:
    text(XLABEL, x, y, 35)

# y labels: delta, subscript and superscript are set apart so they stack
for dx, dy, sup in [(420, 222, 'TVA'), (437, 623, 'TVA'), (862, 218, 'Q'), (862, 627, 'Q'),
                    (1285, 224, 'Q'), (1285, 625, 'Q'), (1713, 224, 'Q'), (1727, 627, 'Q')]:
    text('<i>δ</i>', dx, dy + 2, 35, angle=-90)
    text('<i>avg</i>', dx + 15, dy - 28, 24, angle=-90)
    if sup == 'TVA':
        text('<i>TVA</i>', dx - 9, dy - 32, 18, angle=-90)
    else:
        text('<i>Q</i>', dx - 10, dy - 19, 17, angle=-90)

fig.update_layout(width=W, height=H, margin=dict(l=0, r=0, t=0, b=0, autoexpand=False), paper_bgcolor='white',
                  plot_bgcolor='white', showlegend=False, font=dict(family=FONT))
fig.write_html("out.html", config=dict(displayModeBar=False), post_script="document.body.style.margin='0';")
